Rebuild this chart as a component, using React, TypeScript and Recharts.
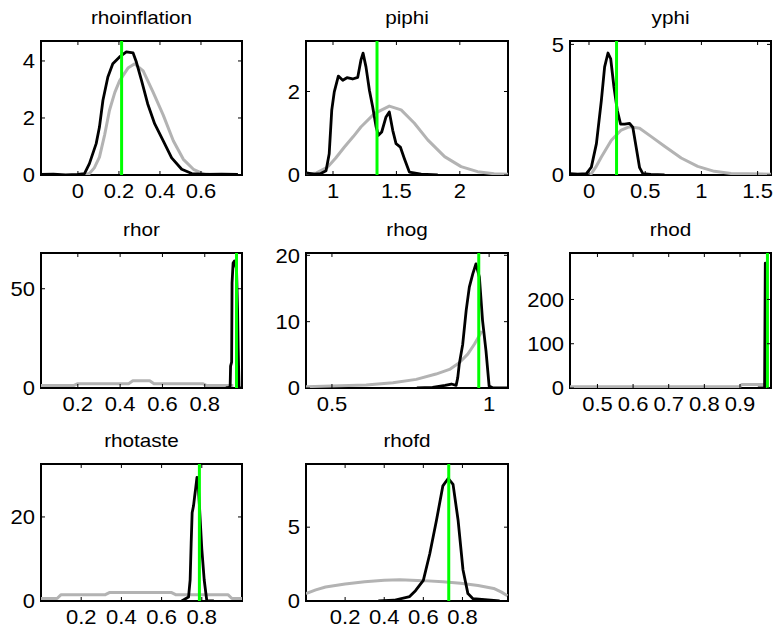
import React from 'react';
import { LineChart, Line, XAxis, YAxis, ReferenceArea } from 'recharts';

type Pt = [number, number];

// ---------- data (x, density) ----------
const rhoinflationPrior: Pt[] = [[0.03,0],[0.056,0.05],[0.08,0.25],[0.105,0.63],[0.13,1.4],[0.154,2.27],[0.18,2.9],[0.203,3.3],[0.244,3.75],[0.277,3.9],[0.318,3.65],[0.367,2.9],[0.416,2.1],[0.465,1.2],[0.514,0.55],[0.563,0.2],[0.612,0.04],[0.66,0]];
const rhoinflationPost: Pt[] = [[-0.18,0.02],[-0.12,0.03],[-0.06,0],[0,0.02],[0.032,0.05],[0.056,0.4],[0.089,1.1],[0.105,1.68],[0.122,2.62],[0.146,3.44],[0.17,3.9],[0.203,4.14],[0.236,4.32],[0.269,4.28],[0.285,3.96],[0.31,3.32],[0.34,2.5],[0.374,1.8],[0.416,1.2],[0.457,0.6],[0.506,0.2],[0.555,0.05],[0.62,0.02],[0.7,0.03],[0.78,0.02]];

const piphiPrior: Pt[] = [[0.79,0.02],[0.87,0.05],[0.958,0.19],[1.02,0.4],[1.09,0.67],[1.16,0.92],[1.22,1.15],[1.326,1.47],[1.444,1.65],[1.537,1.56],[1.642,1.24],[1.747,0.84],[1.88,0.44],[2.01,0.2],[2.14,0.08],[2.27,0.03],[2.38,0.02]];
const piphiPost: Pt[] = [[0.79,0.05],[0.85,0.02],[0.9,0.03],[0.945,0.1],[0.97,0.51],[0.99,1.55],[1.01,1.99],[1.042,2.37],[1.077,2.27],[1.11,2.33],[1.155,2.3],[1.195,2.34],[1.22,2.75],[1.237,2.92],[1.26,2.59],[1.287,2.03],[1.313,1.63],[1.34,1.15],[1.358,0.95],[1.384,1.03],[1.418,1.39],[1.444,1.51],[1.471,1.07],[1.497,0.75],[1.531,0.67],[1.563,0.39],[1.602,0.07],[1.695,0.02],[1.826,0]];

const yphiPrior: Pt[] = [[0,0],[0.021,0.05],[0.06,0.3],[0.11,0.69],[0.199,1.33],[0.287,1.72],[0.361,1.85],[0.45,1.79],[0.554,1.47],[0.672,1.1],[0.82,0.65],[0.967,0.33],[1.115,0.14],[1.264,0.06],[1.41,0.05],[1.62,0.03]];
const yphiPost: Pt[] = [[-0.17,0.05],[-0.1,0.03],[-0.023,0.05],[0.021,0.3],[0.066,1.2],[0.11,2.86],[0.139,4.14],[0.169,4.67],[0.193,4.45],[0.222,3.37],[0.252,2.47],[0.281,1.95],[0.317,1.95],[0.361,1.98],[0.39,1.82],[0.42,1.05],[0.45,0.28],[0.479,0.05],[0.55,0.02],[0.672,0]];

const rhorPrior: Pt[] = [[0.026,1.2],[0.18,1.2],[0.2,2.2],[0.44,2.2],[0.46,3.6],[0.54,3.6],[0.56,2.2],[0.79,2.2],[0.81,1.2],[0.935,1.2]];
const rhorPost: Pt[] = [[0.9,0],[0.915,0.3],[0.92,1],[0.922,11],[0.927,13],[0.929,53],[0.934,63],[0.94,64],[0.95,60],[0.955,40],[0.958,20],[0.962,0.3],[0.97,0]];

const rhogPrior: Pt[] = [[0.4175,0.2],[0.609,0.45],[0.694,0.8],[0.768,1.3],[0.831,2.1],[0.874,2.8],[0.905,3.8],[0.932,5.1],[0.953,6.6],[0.969,7.9],[0.977,8.6]];
const rhogPost: Pt[] = [[0.77,0],[0.82,0.1],[0.86,0.4],[0.88,0.6],[0.895,0.4],[0.9,1.5],[0.905,3.6],[0.916,6.6],[0.927,11.7],[0.937,15.2],[0.948,17.2],[0.958,18.7],[0.969,16.7],[0.979,10.2],[0.99,5.6],[1.0,0.3],[1.011,0.05],[1.06,0]];

const rhodPrior: Pt[] = [[0.423,3],[0.9,3],[0.905,8],[0.975,8]];
const rhodPost: Pt[] = [[0.95,0],[0.969,0],[0.971,282],[0.973,0],[0.98,0]];

const rhotastePrior: Pt[] = [[0,0.6],[0.08,0.6],[0.1,1.5],[0.32,1.5],[0.34,2.0],[0.65,2.0],[0.67,1.5],[0.93,1.5],[0.95,0.6],[1.0,0.6]];
const rhotastePost: Pt[] = [[0.7,0],[0.734,0.95],[0.742,5],[0.747,13.6],[0.752,21],[0.759,22.7],[0.764,24.7],[0.77,27],[0.776,29.4],[0.782,28],[0.789,22],[0.8,12.4],[0.812,5],[0.825,0],[0.86,0]];

const rhofdPrior: Pt[] = [[0,0.5],[0.05,0.75],[0.1,0.95],[0.2,1.15],[0.3,1.3],[0.4,1.4],[0.48,1.44],[0.6,1.38],[0.7,1.3],[0.79,1.2],[0.88,1.05],[0.96,0.85],[1.0,0.6],[1.03,0.35]];
const rhofdPost: Pt[] = [[0.37,0],[0.45,0.05],[0.53,0.3],[0.56,0.7],[0.6,1.4],[0.633,3.2],[0.667,5.45],[0.7,7.8],[0.727,8.3],[0.752,7.9],[0.778,5.45],[0.803,2.1],[0.828,0.5],[0.854,0.16],[0.99,0]];

const titles = ['rhoinflation', 'piphi', 'yphi', 'rhor', 'rhog', 'rhod', 'rhotaste', 'rhofd'];
const priors = [rhoinflationPrior, piphiPrior, yphiPrior, rhorPrior, rhogPrior, rhodPrior, rhotastePrior, rhofdPrior];
const posts = [rhoinflationPost, piphiPost, yphiPost, rhorPost, rhogPost, rhodPost, rhotastePost, rhofdPost];
const modes = [0.213, 1.347, 0.245, 0.95, 0.967, 0.977, 0.788, 0.73];
const xDomains: Pt[] = [[-0.18, 0.8], [0.787, 2.38], [-0.169, 1.619], [0.026, 0.976], [0.4175, 1.06], [0.423, 0.987], [0, 1.0], [0, 1.033]];
const yMaxes = [4.7, 3.21, 5.13, 68, 20.35, 305, 32.6, 9.28];
const xTicks = [[0, 0.2, 0.4, 0.6], [1, 1.5, 2], [0, 0.5, 1, 1.5], [0.2, 0.4, 0.6, 0.8], [0.5, 1], [0.5, 0.6, 0.7, 0.8, 0.9], [0.2, 0.4, 0.6, 0.8], [0.2, 0.4, 0.6, 0.8]];
const yTicks = [[0, 2, 4], [0, 2], [0, 5], [0, 50], [0, 10, 20], [0, 100, 200], [0, 20], [0, 5]];

// ---------- layout ----------
const rects = [
  { left: 41, top: 41, w: 201, h: 134 },
  { left: 306, top: 41, w: 202, h: 134 },
  { left: 570, top: 41, w: 201, h: 134 },
  { left: 41, top: 253, w: 201, h: 135 },
  { left: 306, top: 253, w: 202, h: 135 },
  { left: 570, top: 253, w: 201, h: 135 },
  { left: 41, top: 464, w: 201, h: 137 },
  { left: 306, top: 464, w: 202, h: 137 },
];

const FONT = '"Liberation Sans", Arial, Helvetica, sans-serif';
const TICK_FS = 20;
const TICK_SX = 1.1;
const ML = 60, MT = 12, MR = 14, XH = 40;

const fmt = (v: number) => String(Math.round(v * 1000) / 1000);
const rows = (pts: Pt[]) => pts.map(([x, y]) => ({ x, y }));

function Panel({ idx }: { idx: number }) {
  const r = rects[idx];
  const W = ML + r.w + MR;
  const H = MT + r.h + XH;
  const [x0, x1] = xDomains[idx];
  const yMax = yMaxes[idx];
  const greenRows = [{ x: modes[idx], y: 0 }, { x: modes[idx], y: yMax }];

  const XTick = (p: any) => {
    const { x, y, payload } = p;
    return (
      <g>
        <line x1={x} y1={y} x2={x} y2={y - 4} stroke="#000" strokeWidth={1} />
        <line x1={x} y1={y - r.h} x2={x} y2={y - r.h + 4} stroke="#000" strokeWidth={1} />
        <text
          transform={`translate(${x} ${y + 9}) scale(${TICK_SX} 1)`}
          x={0}
          y={0}
          dy="0.72em"
          textAnchor="middle"
          fontFamily={FONT}
          fontSize={TICK_FS}
          fill="#000"
        >
          {fmt(payload.value)}
        </text>
      </g>
    );
  };
  const YTick = (p: any) => {
    const { x, y, payload } = p;
    return (
      <g>
        <line x1={x} y1={y} x2={x + 4} y2={y} stroke="#000" strokeWidth={1} />
        <line x1={x + r.w} y1={y} x2={x + r.w - 4} y2={y} stroke="#000" strokeWidth={1} />
        <text
          transform={`translate(${x - 6} ${y}) scale(${TICK_SX} 1)`}
          x={0}
          y={0}
          dy="0.36em"
          textAnchor="end"
          fontFamily={FONT}
          fontSize={TICK_FS}
          fill="#000"
        >
          {fmt(payload.value)}
        </text>
      </g>
    );
  };

  return (
    <div style={{ position: 'absolute', left: r.left - ML, top: r.top - MT, width: W, height: H }}>
      <LineChart width={W} height={H} margin={{ top: MT, right: MR, left: 0, bottom: 0 }}>
        <XAxis
          dataKey="x"
          type="number"
          domain={[x0, x1]}
          allowDataOverflow
          ticks={xTicks[idx]}
          interval={0}
          tickSize={0}
          tickMargin={0}
          tickLine={false}
          axisLine={false}
          height={XH}
          tick={XTick}
        />
        <YAxis
          type="number"
          domain={[0, yMax]}
          allowDataOverflow
          ticks={yTicks[idx]}
          interval={0}
          tickSize={0}
          tickMargin={0}
          tickLine={false}
          axisLine={false}
          width={ML}
          tick={YTick}
        />
        <ReferenceArea x1={x0} x2={x1} y1={0} y2={yMax} fill="none" fillOpacity={0} stroke="#000" strokeWidth={2} />
        <Line data={rows(priors[idx])} dataKey="y" type="linear" stroke="#b3b3b3" strokeWidth={3} dot={false} activeDot={false} isAnimationActive={false} strokeLinejoin="round" />
        <Line data={rows(posts[idx])} dataKey="y" type="linear" stroke="#000" strokeWidth={2.8} dot={false} activeDot={false} isAnimationActive={false} strokeLinejoin="round" />
        <Line data={greenRows} dataKey="y" type="linear" stroke="#00ff00" strokeWidth={3} dot={false} activeDot={false} isAnimationActive={false} />
      </LineChart>
    </div>
  );
}

export default function App() {
  return (
    <div style={{ position: 'absolute', left: 0, top: 0, width: 774, height: 632, background: '#fff', overflow: 'hidden' }}>
      {titles.map((_, i) => (
        <Panel key={i} idx={i} />
      ))}
      <svg width={774} height={632} style={{ position: 'absolute', left: 0, top: 0, pointerEvents: 'none' }}>
        {titles.map((t, i) => {
          const cx = rects[i].left + rects[i].w / 2;
          return (
            <text
              key={t}
              transform={`translate(${cx} ${rects[i].top - 17}) scale(1.15 1)`}
              x={0}
              y={0}
              textAnchor="middle"
              fontFamily={FONT}
              fontSize={18}
              fill="#000"
            >
              {t}
            </text>
          );
        })}
      </svg>
    </div>
  );
}
